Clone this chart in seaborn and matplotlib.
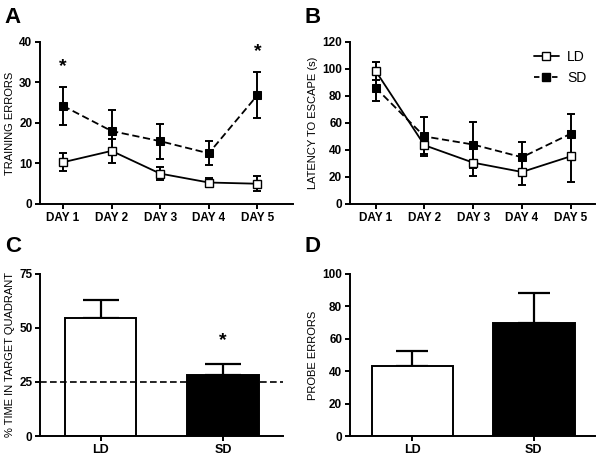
import numpy as np
import pandas as pd
import matplotlib
matplotlib.use("Agg")
import matplotlib.pyplot as plt
import seaborn as sns
from matplotlib.lines import Line2D

sns.set_style("ticks")
plt.rcParams['font.family'] = ['Liberation Sans', 'DejaVu Sans']
plt.rcParams['axes.linewidth'] = 1.4
plt.rcParams['axes.edgecolor'] = 'black'
plt.rcParams['text.color'] = 'black'
plt.rcParams['axes.labelcolor'] = 'black'
plt.rcParams['xtick.color'] = 'black'
plt.rcParams['ytick.color'] = 'black'

# data
days = ["DAY 1", "DAY 2", "DAY 3", "DAY 4", "DAY 5"]
groups = ["LD", "SD"]

train_ld = [10.3, 13.1, 7.5, 5.3, 5.0]
train_ld_err = [2.2, 3.0, 1.7, 1.0, 1.8]
train_sd = [24.2, 18.0, 15.5, 12.5, 26.8]
train_sd_err = [4.6, 5.2, 4.3, 3.0, 5.7]

lat_ld = [98.5, 43.5, 30.6, 23.7, 35.3]
lat_ld_err = [6.5, 6.5, 10.0, 9.9, 19.0]
lat_sd = [86.0, 50.0, 44.0, 34.6, 52.0]
lat_sd_err = [10.0, 14.5, 17.0, 11.5, 14.5]

quad_mean = [54.5, 28.0]
quad_err = [8.4, 5.3]
probe_mean = [43.3, 69.6]
probe_err = [8.9, 18.7]

fig = plt.figure(figsize=(6.0, 4.58), dpi=100)
axA = fig.add_axes([0.0667, 0.5546, 0.422, 0.354])
axB = fig.add_axes([0.583, 0.5546, 0.408, 0.354])
axC = fig.add_axes([0.0667, 0.048, 0.405, 0.354])
axD = fig.add_axes([0.583, 0.048, 0.408, 0.354])

TICK_FS = 8.5
LABEL_FS = 8
tick_font = dict(fontsize=TICK_FS, fontweight='bold')


def line_panel(ax, ld, ld_err, sd, sd_err):
    df = pd.DataFrame({
        "day": days * 2,
        "value": ld + sd,
        "group": ["LD"] * 5 + ["SD"] * 5,
    })
    x = np.arange(len(days))
    ax.errorbar(x, sd, yerr=sd_err, fmt='none', ecolor='black', elinewidth=1.4,
                capsize=3, capthick=1.4, zorder=2)
    ax.errorbar(x, ld, yerr=ld_err, fmt='none', ecolor='black', elinewidth=1.4,
                capsize=3, capthick=1.4, zorder=2)
    sns.lineplot(data=df[df.group == "SD"], x="day", y="value", ax=ax, color='black',
                 linestyle=(0, (4, 2)), linewidth=1.3, marker='s', markersize=6,
                 markerfacecolor='black', markeredgecolor='black', zorder=3)
    sns.lineplot(data=df[df.group == "LD"], x="day", y="value", ax=ax, color='black',
                 linewidth=1.3, marker='s', markersize=6, markerfacecolor='white',
                 markeredgecolor='black', markeredgewidth=1.0, zorder=4)
    ax.set_xlabel("")
    for lab in ax.get_xticklabels() + ax.get_yticklabels():
        lab.set_fontsize(TICK_FS)
        lab.set_fontweight('bold')
    sns.despine(ax=ax)
    ax.tick_params(width=1.4, length=3.5, pad=2)


# A
line_panel(axA, train_ld, train_ld_err, train_sd, train_sd_err)
axA.set_xlim(-0.474, 4.74)
axA.set_ylim(0, 40)
axA.set_yticks([0, 10, 20, 30, 40])
axA.set_yticklabels(["0", "10", "20", "30", "40"], **tick_font)
axA.set_ylabel("TRAINING ERRORS", fontsize=LABEL_FS, labelpad=3)
axA.text(0, 34, "*", ha='center', va='center', fontsize=14, fontweight='bold')
axA.text(4, 37.6, "*", ha='center', va='center', fontsize=14, fontweight='bold')

# B
line_panel(axB, lat_ld, lat_ld_err, lat_sd, lat_sd_err)
axB.set_xlim(-0.53, 4.49)
axB.set_ylim(0, 120)
axB.set_yticks(range(0, 121, 20))
axB.set_yticklabels([str(v) for v in range(0, 121, 20)], **tick_font)
axB.set_ylabel("LATENCY TO ESCAPE (s)", fontsize=LABEL_FS, labelpad=3)
handles = [
    Line2D([], [], color='black', linewidth=1.3, marker='s', markersize=6,
           markerfacecolor='white', markeredgecolor='black'),
    Line2D([], [], color='black', linewidth=1.3, linestyle=(0, (3, 2)), marker='s',
           markersize=6, markerfacecolor='black'),
]
axB.legend(handles, groups, loc='upper right', frameon=False, fontsize=10,
           handlelength=1.8, handletextpad=0.6, borderaxespad=0.2,
           bbox_to_anchor=(1.0, 1.0))


def bar_panel(ax, means, errs, cap):
    df = pd.DataFrame({"group": groups, "value": means})
    sns.barplot(data=df, x="group", y="value", ax=ax, palette=['white', 'black'],
                hue="group", legend=False, edgecolor='black', linewidth=1.4,
                errorbar=None, zorder=2)
    ax.errorbar(np.arange(len(groups)), means, yerr=[[0, 0], errs], fmt='none',
                ecolor='black', elinewidth=1.6, capsize=cap, capthick=1.6, zorder=1)
    ax.set_xlabel("")
    for lab in ax.get_xticklabels():
        lab.set_fontsize(TICK_FS + 0.5)
        lab.set_fontweight('bold')
    sns.despine(ax=ax)
    ax.tick_params(width=1.4, length=3.5, pad=2)


# C
bar_panel(axC, quad_mean, quad_err, 13)
for p in axC.patches:
    p.set_width(0.58)
    p.set_x(p.get_x() + (0.8 - 0.58) / 2)
axC.set_xlim(-0.494, 1.49)
axC.set_ylim(0, 75)
axC.set_yticks([0, 25, 50, 75])
axC.set_yticklabels(["0", "25", "50", "75"], **tick_font)
axC.set_ylabel("% TIME IN TARGET QUADRANT", fontsize=LABEL_FS, labelpad=3)
axC.axhline(25, color='black', linestyle=(0, (4, 2)), linewidth=1.2, zorder=3)
axC.text(1, 44, "*", ha='center', va='center', fontsize=14, fontweight='bold')

# D
bar_panel(axD, probe_mean, probe_err, 11.5)
for p in axD.patches:
    p.set_width(0.67)
    p.set_x(p.get_x() + (0.8 - 0.67) / 2)
axD.set_xlim(-0.514, 1.5)
axD.set_ylim(0, 100)
axD.set_yticks(range(0, 101, 20))
axD.set_yticklabels([str(v) for v in range(0, 101, 20)], **tick_font)
axD.set_ylabel("PROBE ERRORS", fontsize=LABEL_FS, labelpad=3)

for letter, x, y in [("A", 0.008, 0.985), ("B", 0.508, 0.985),
                     ("C", 0.008, 0.485), ("D", 0.508, 0.485)]:
    fig.text(x, y, letter, fontsize=16, fontweight='bold', va='top', ha='left')

fig.savefig("out.png", dpi=100)
